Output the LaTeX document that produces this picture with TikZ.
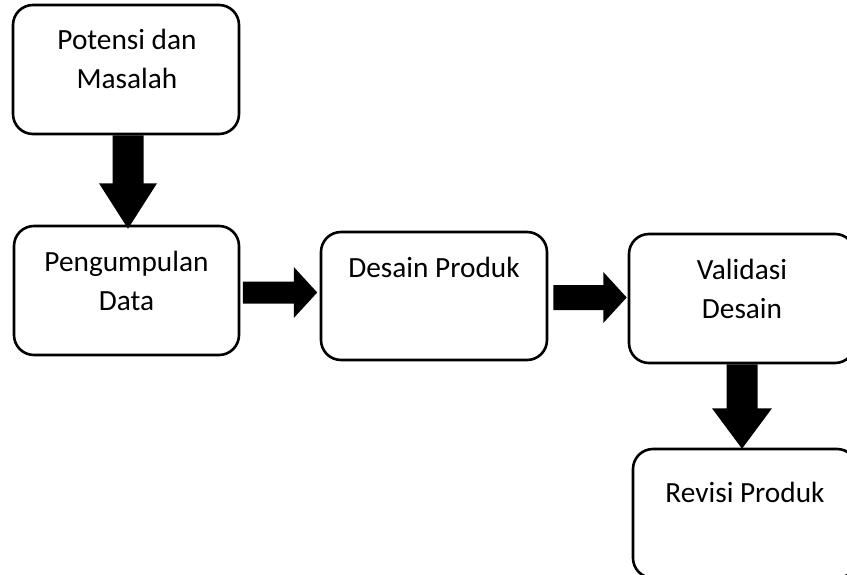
\documentclass[tikz,border=0pt]{standalone}
\usepackage{fontspec}
\setmainfont{Carlito}
\usetikzlibrary{calc}
\tikzset{
  box/.style={draw=black, line width=2.6pt, rounded corners=20pt, inner sep=0pt, fill=white},
  lbl/.style={font=\fontsize{29.3}{39}\selectfont, align=center, anchor=base, inner sep=0pt},
  blk/.style={fill=black, draw=none}
}
\begin{document}
\begin{tikzpicture}[x=1pt, y=-1pt]
\useasboundingbox (0,0) rectangle (847,575);
\clip (0,0) rectangle (847,575);
\fill[white] (0,0) rectangle (847,575);
% boxes
\node[box, minimum width=226pt, minimum height=129pt] (b1) at (126,69.5) {};
\node[box, minimum width=225pt, minimum height=129pt] (b2) at (126.5,290.5) {};
\node[box, minimum width=226pt, minimum height=128pt] (b3) at (434,296) {};
\node[box, minimum width=226pt, minimum height=129pt] (b4) at (742,298.5) {};
\node[box, minimum width=224pt, minimum height=129pt] (b5) at (745,513.5) {};
% labels (base anchor = baseline of last line)
\node[lbl] (t1) at (127,89) {Potensi dan\\Masalah};
\node[lbl] (t2) at (126.5,310) {Pengumpulan\\Data};
\node[lbl] (t3) at (434,277) {Desain Produk};
\node[lbl] (t4) at (742,318) {Validasi\\Desain};
\node[lbl] (t5) at (745,502) {Revisi Produk};
% arrow 1: down from b1 to b2
\coordinate (s1) at ($(b1.south)+(2,0)$);
\coordinate (e1) at ($(b2.north)+(1.5,4)$);
\fill[blk] ($(s1)+(-15.5,0)$) -- ($(s1)+(-15.5,48)$) -- ($(s1)+(-29,48)$) -- (e1)
  -- ($(s1)+(29,48)$) -- ($(s1)+(15.5,48)$) -- ($(s1)+(15.5,0)$) -- cycle;
% arrow 2: right from b2 to b3
\coordinate (s2) at ($(b2.east)+(2.5,2)$);
\coordinate (e2) at ($(b3.west)+(-2.5,-3.5)$);
\fill[blk] ($(s2)+(0,-11)$) -- ($(s2)+(51,-11)$) -- ($(s2)+(51,-25.5)$) -- (e2)
  -- ($(s2)+(51,25.5)$) -- ($(s2)+(51,11)$) -- ($(s2)+(0,11)$) -- cycle;
% arrow 3: right from b3 to b4
\coordinate (s3) at ($(b3.east)+(5,1.5)$);
\coordinate (e3) at ($(b4.west)+(-1,-1)$);
\fill[blk] ($(s3)+(0,-12.5)$) -- ($(s3)+(50,-12.5)$) -- ($(s3)+(50,-25.5)$) -- (e3)
  -- ($(s3)+(50,25.5)$) -- ($(s3)+(50,12.5)$) -- ($(s3)+(0,12.5)$) -- cycle;
% arrow 4: down from b4 to b5
\coordinate (s4) at ($(b4.south)+(0,0)$);
\coordinate (e4) at ($(b5.north)+(-3,1)$);
\fill[blk] ($(s4)+(-15.5,0)$) -- ($(s4)+(-15.5,44)$) -- ($(s4)+(-30,44)$) -- (e4)
  -- ($(s4)+(30,44)$) -- ($(s4)+(15.5,44)$) -- ($(s4)+(15.5,0)$) -- cycle;
\end{tikzpicture}
\end{document}
